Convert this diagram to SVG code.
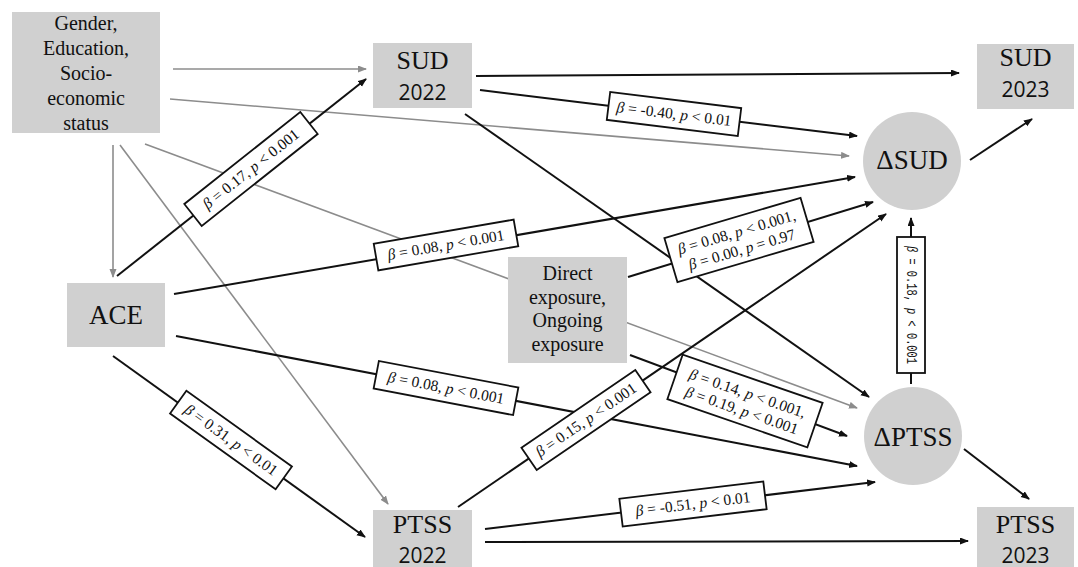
<svg xmlns="http://www.w3.org/2000/svg" width="1078" height="567" viewBox="0 0 1078 567">
<style>
.k{stroke:#111;stroke-width:2;fill:none;marker-end:url(#ak)}
.g{stroke:#8c8c8c;stroke-width:1.6;fill:none;marker-end:url(#ag)}
.nb{fill:#d0d0d0}
.lb{fill:#fff;stroke:#111;stroke-width:1.8}
.lt{font-family:"Liberation Serif",serif;font-size:15.5px;fill:#111;text-anchor:middle}
.it{font-style:italic}
.ser{font-family:"Liberation Serif",serif;fill:#111;text-anchor:middle}
.num{font-family:"Open Sans",sans-serif;font-size:21px;fill:#111;text-anchor:middle}
.mono{font-family:"Liberation Mono",monospace;font-size:14px;fill:#111;text-anchor:middle}
</style>
<defs>
<marker id="ak" markerUnits="userSpaceOnUse" markerWidth="10" markerHeight="8" refX="8" refY="3.5" orient="auto"><path d="M0,0 L9,3.5 L0,7 z" fill="#111"/></marker>
<marker id="ag" markerUnits="userSpaceOnUse" markerWidth="10" markerHeight="8" refX="8" refY="3.5" orient="auto"><path d="M0,0 L9,3.5 L0,7 z" fill="#8c8c8c"/></marker>
</defs>
<rect width="1078" height="567" fill="#fff"/>
<g id="connectors">
<line class="g" x1="173" y1="69" x2="366" y2="69"/>
<line class="g" x1="170" y1="99" x2="849" y2="156"/>
<line class="g" x1="113" y1="145" x2="113" y2="277"/>
<line class="g" x1="120" y1="145" x2="388" y2="504"/>
<line class="g" x1="145" y1="144" x2="857" y2="408"/>
<line class="k" x1="117" y1="276" x2="366" y2="79"/>
<line class="k" x1="174" y1="294" x2="855" y2="177"/>
<line class="k" x1="176" y1="336" x2="857" y2="466"/>
<line class="k" x1="113" y1="356" x2="365" y2="537"/>
<line class="k" x1="476" y1="76" x2="959" y2="73"/>
<line class="k" x1="480" y1="90" x2="857" y2="136"/>
<line class="k" x1="465" y1="114" x2="869" y2="397"/>
<line class="k" x1="628" y1="277" x2="873" y2="202"/>
<line class="k" x1="630" y1="355" x2="847" y2="436"/>
<line class="k" x1="458" y1="507" x2="886" y2="214"/>
<line class="k" x1="485" y1="529" x2="875" y2="482"/>
<line class="k" x1="485" y1="542" x2="968" y2="541"/>
<line class="k" x1="970" y1="160" x2="1032" y2="119"/>
<line class="k" x1="964" y1="449" x2="1029" y2="499"/>
<line class="k" x1="911" y1="384" x2="911" y2="218"/>

<g transform="translate(251,169) rotate(-38.4)"><rect class="lb" x="-74" y="-14" width="148" height="28"/><text class="lt" y="5"><tspan class="it">β</tspan> = 0.17, <tspan class="it">p</tspan> &lt; 0.001</text></g>
<g transform="translate(446,245) rotate(-9.8)"><rect class="lb" x="-71" y="-13.5" width="142" height="27"/><text class="lt" y="5"><tspan class="it">β</tspan> = 0.08, <tspan class="it">p</tspan> &lt; 0.001</text></g>
<g transform="translate(674,114) rotate(7)"><rect class="lb" x="-66" y="-14" width="132" height="28"/><text class="lt" y="5"><tspan class="it">β</tspan> = -0.40, <tspan class="it">p</tspan> &lt; 0.01</text></g>
<g transform="translate(739,240) rotate(-16.5)"><rect class="lb" x="-71" y="-23" width="142" height="46"/><text class="lt" y="-3"><tspan class="it">β</tspan> = 0.08, <tspan class="it">p</tspan> &lt; 0.001,</text><text class="lt" y="15"><tspan class="it">β</tspan> = 0.00, <tspan class="it">p</tspan> = 0.97</text></g>
<g><rect class="lb" x="897" y="237" width="28" height="136"/><text class="mono" transform="translate(911,305) rotate(90)" y="4.5" textLength="118" lengthAdjust="spacingAndGlyphs"><tspan class="it">β</tspan> = 0.18, <tspan class="it">p</tspan> &lt; 0.001</text></g>
<g transform="translate(446,388) rotate(10.8)"><rect class="lb" x="-71" y="-14" width="142" height="28"/><text class="lt" y="5"><tspan class="it">β</tspan> = 0.08, <tspan class="it">p</tspan> &lt; 0.001</text></g>
<g transform="translate(745,401) rotate(19)"><rect class="lb" x="-74" y="-23.5" width="148" height="47"/><text class="lt" y="-3"><tspan class="it">β</tspan> = 0.14, <tspan class="it">p</tspan> &lt; 0.001,</text><text class="lt" y="15"><tspan class="it">β</tspan> = 0.19, <tspan class="it">p</tspan> &lt; 0.001</text></g>
<g transform="translate(231,440) rotate(35.7)"><rect class="lb" x="-65" y="-14" width="130" height="28"/><text class="lt" y="5"><tspan class="it">β</tspan> = 0.31, <tspan class="it">p</tspan> &lt; 0.01</text></g>
<g transform="translate(586,420) rotate(-34.4)"><rect class="lb" x="-69" y="-13.5" width="138" height="27"/><text class="lt" y="5"><tspan class="it">β</tspan> = 0.15, <tspan class="it">p</tspan> &lt; 0.001</text></g>
<g transform="translate(693,504) rotate(-6.9)"><rect class="lb" x="-72.5" y="-14" width="145" height="28"/><text class="lt" y="5"><tspan class="it">β</tspan> = -0.51, <tspan class="it">p</tspan> &lt; 0.01</text></g>
</g>

<g id="covariates"><rect class="nb" x="12" y="12" width="148" height="121"/>
<text class="ser" font-size="20"><tspan x="86" y="30">Gender,</tspan><tspan x="86" y="55">Education,</tspan><tspan x="86" y="80">Socio-</tspan><tspan x="86" y="105">economic</tspan><tspan x="86" y="130">status</tspan></text></g>
<g id="sud2022"><rect class="nb" x="373" y="43" width="99" height="65"/><text class="ser" font-size="26" x="422.5" y="69">SUD</text><text class="num" x="422.5" y="100">2022</text></g>
<g id="sud2023"><rect class="nb" x="977" y="44" width="97" height="65"/><text class="ser" font-size="26" x="1025.5" y="66">SUD</text><text class="num" x="1025.5" y="97">2023</text></g>
<g id="dsud"><circle class="nb" cx="912" cy="161" r="49"/><text class="ser" font-size="27" x="912" y="169">ΔSUD</text></g>
<g id="ace"><rect class="nb" x="67" y="283" width="98" height="64"/><text class="ser" font-size="27" x="116" y="324">ACE</text></g>
<g id="exposure"><rect class="nb" x="508" y="257" width="119" height="106"/>
<text class="ser" font-size="20"><tspan x="567.5" y="280">Direct</tspan><tspan x="567.5" y="303.5">exposure,</tspan><tspan x="567.5" y="327">Ongoing</tspan><tspan x="567.5" y="350.5">exposure</tspan></text></g>
<g id="dptss"><circle class="nb" cx="913" cy="436" r="49"/><text class="ser" font-size="27" x="913" y="446">ΔPTSS</text></g>
<g id="ptss2022"><rect class="nb" x="373" y="510" width="99" height="60"/><text class="ser" font-size="26" x="422.5" y="533">PTSS</text><text class="num" font-size="20" x="422.5" y="563">2022</text></g>
<g id="ptss2023"><rect class="nb" x="977" y="507" width="97" height="63"/><text class="ser" font-size="26" x="1025.5" y="533">PTSS</text><text class="num" font-size="20" x="1025.5" y="563">2023</text></g>
</svg>
